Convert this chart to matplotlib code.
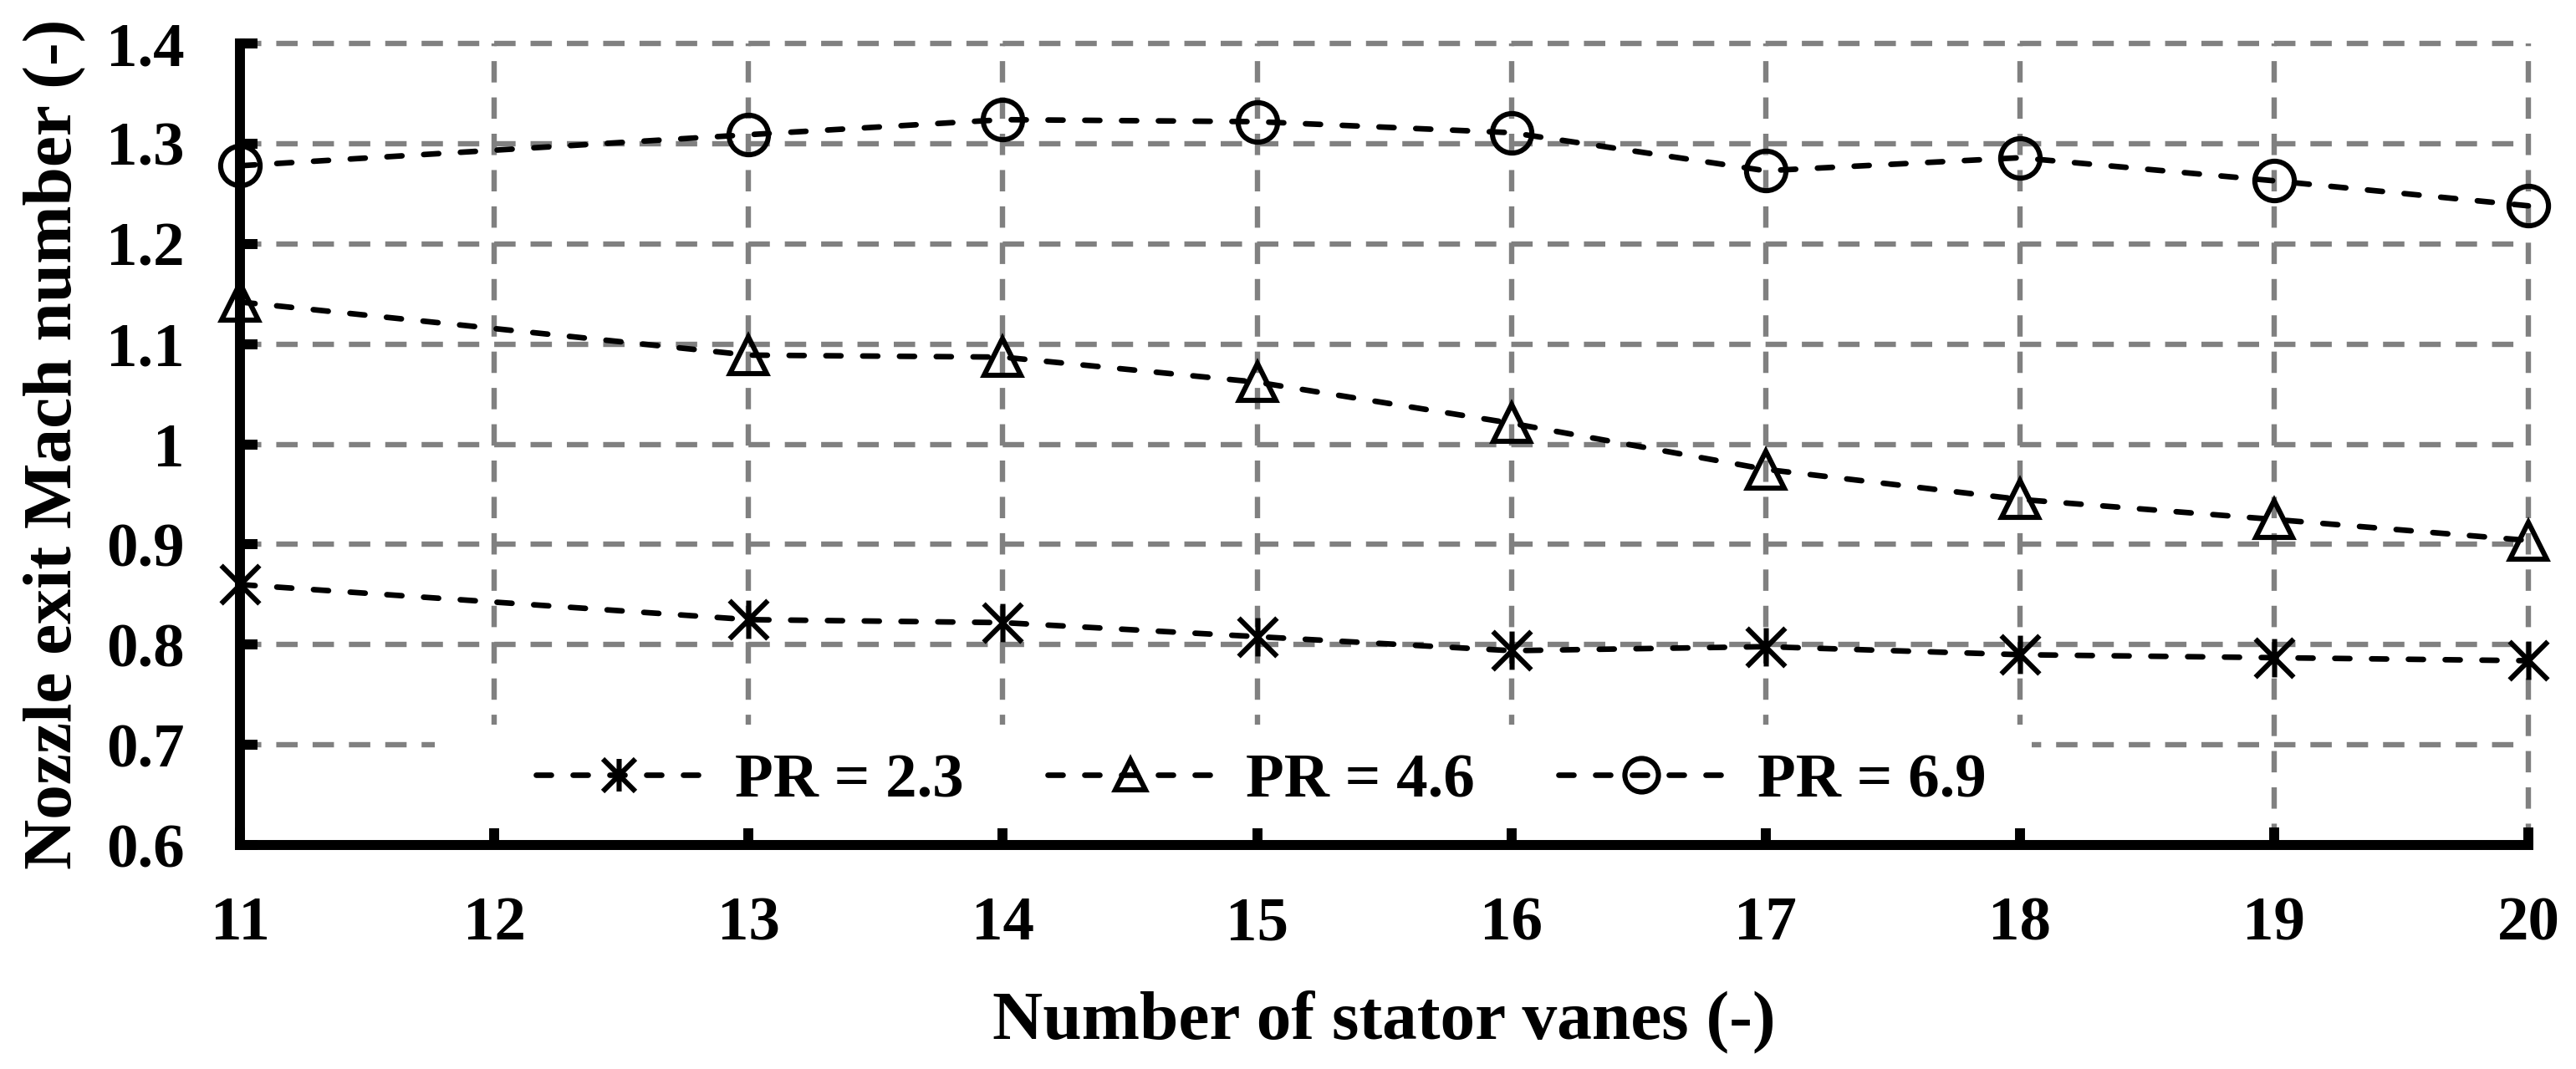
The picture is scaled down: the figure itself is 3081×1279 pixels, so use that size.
import matplotlib
matplotlib.use("Agg")
import matplotlib.pyplot as plt
from matplotlib.path import Path
from matplotlib.patches import Rectangle

# data
vanes = [11, 13, 14, 15, 16, 17, 18, 19, 20]
mach_pr23 = [0.860, 0.825, 0.822, 0.808, 0.794, 0.798, 0.790, 0.787, 0.784]
mach_pr46 = [1.142, 1.089, 1.087, 1.062, 1.021, 0.975, 0.945, 0.925, 0.904]
mach_pr69 = [1.278, 1.309, 1.324, 1.322, 1.311, 1.273, 1.286, 1.263, 1.238]
series_labels = ["PR = 2.3", "PR = 4.6", "PR = 6.9"]
x_ticks = list(range(11, 21))
y_ticks = [0.6, 0.7, 0.8, 0.9, 1.0, 1.1, 1.2, 1.3, 1.4]
y_ticklabels = ["0.6", "0.7", "0.8", "0.9", "1", "1.1", "1.2", "1.3", "1.4"]

plt.rcParams["font.family"] = ["Liberation Serif", "DejaVu Serif"]
plt.rcParams["font.weight"] = "bold"

# Excel-like asterisk: an X with a vertical bar
star = Path(
    [(-1, -1), (1, 1), (-1, 1), (1, -1), (0, -1), (0, 1)],
    [Path.MOVETO, Path.LINETO, Path.MOVETO, Path.LINETO, Path.MOVETO, Path.LINETO],
)

fig = plt.figure(figsize=(15.405, 6.395), dpi=200)
ax = fig.add_axes([0.0932, 0.2095, 0.8883, 0.7498])

line_kw = dict(color="black", lw=2.4, linestyle=(0, (2.7, 3.9)),
               dash_capstyle="round", mfc="none", mec="black", mew=2.2,
               clip_on=False, zorder=3)
ax.plot(vanes, mach_pr23, marker=star, ms=16.5, label=series_labels[0], **line_kw)
ax.plot(vanes, mach_pr46, marker="^", ms=15.5, label=series_labels[1], **line_kw)
ax.plot(vanes, mach_pr69, marker="o", ms=17, label=series_labels[2], **line_kw)

ax.set_xlim(11, 20)
ax.set_ylim(0.6, 1.4)
ax.set_xticks(x_ticks)
ax.set_yticks(y_ticks)
ax.set_yticklabels(y_ticklabels)

ax.grid(True, color="#808080", lw=2.3, linestyle=(0, (4.0, 2.8)), clip_on=False)

for side in ("top", "right"):
    ax.spines[side].set_visible(False)
for side in ("left", "bottom"):
    ax.spines[side].set_linewidth(4.3)
    ax.spines[side].set_color("black")

ax.tick_params(axis="both", direction="in", length=7.5, width=4.3,
               labelsize=27, colors="black")
ax.tick_params(axis="x", pad=22)
ax.tick_params(axis="y", pad=24)

ax.set_xlabel("Number of stator vanes (-)", fontsize=30, fontweight="bold")
ax.set_ylabel("Nozzle exit Mach number (-)", fontsize=30, fontweight="bold")
ax.xaxis.set_label_coords(0.5, -0.181)
ax.yaxis.set_label_coords(-0.067, 0.5)

# white patch behind the legend hides the grid there
ax.add_patch(Rectangle((0.085, 0.021), 0.698, 0.129, transform=ax.transAxes,
                       facecolor="white", edgecolor="none", zorder=1.6))

ax.legend(loc="center", bbox_to_anchor=(0.4462, 0.079), ncol=3, frameon=False,
          fontsize=27, handlelength=2.64, handletextpad=0.53,
          columnspacing=1.33, markerscale=0.85, borderpad=0, borderaxespad=0)

fig.savefig("out.png", dpi=200)
